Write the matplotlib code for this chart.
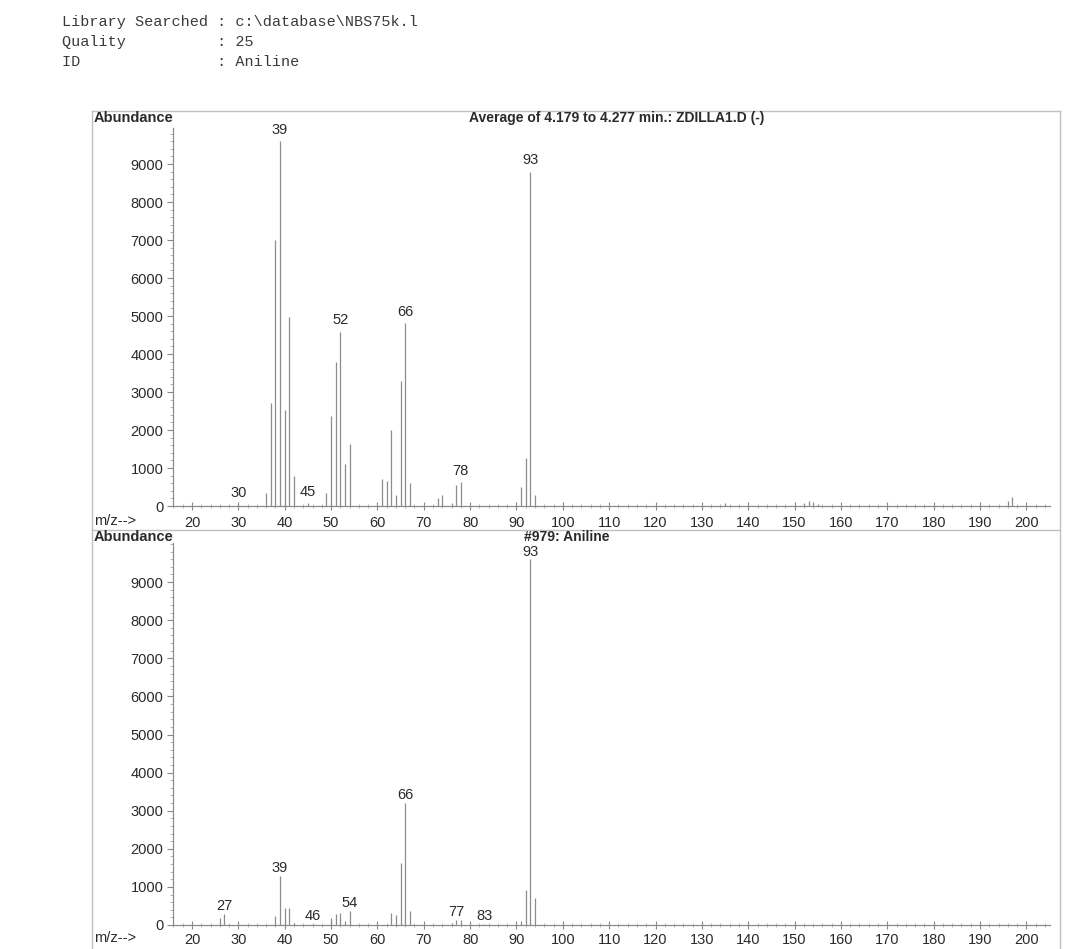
import matplotlib
matplotlib.use("Agg")
import matplotlib.pyplot as plt
from matplotlib.lines import Line2D
from matplotlib.ticker import MultipleLocator

# ---------------- data ----------------
header_lines = [
    "Library Searched : c:\\database\\NBS75k.l",
    "Quality          : 25",
    "ID               : Aniline",
]

top_title = "Average of 4.179 to 4.277 min.: ZDILLA1.D (-)"
top_mz = [30, 36, 37, 38, 39, 40, 41, 42, 45, 49, 50, 51, 52, 53, 54,
          61, 62, 63, 64, 65, 66, 67, 73, 74, 76, 77, 78,
          91, 92, 93, 94, 135, 152, 153, 154, 155, 196, 197]
top_ab = [60, 340, 2700, 7000, 9600, 2520, 4970, 800, 80, 350, 2380, 3780, 4590, 1100, 1620,
          700, 650, 1990, 290, 3280, 4810, 600, 200, 290, 80, 560, 620,
          490, 1270, 8800, 290, 80, 90, 120, 100, 60, 120, 230]
top_labels = [30, 39, 45, 52, 66, 78, 93]

bot_title = "#979: Aniline"
bot_mz = [26, 27, 38, 39, 40, 41, 42, 46, 50, 51, 52, 53, 54,
          63, 64, 65, 66, 67, 76, 77, 78, 83, 91, 92, 93, 94]
bot_ab = [190, 290, 245, 1290, 450, 450, 50, 30, 190, 300, 310, 100, 370,
          310, 260, 1630, 3200, 375, 60, 130, 130, 30, 100, 930, 9600, 700]
bot_labels = [27, 39, 46, 54, 66, 77, 83, 93]

y_ticks = [0, 1000, 2000, 3000, 4000, 5000, 6000, 7000, 8000, 9000]
x_ticks = list(range(20, 201, 10))

# ---------------- figure ----------------
W, H = 1092, 949
fig = plt.figure(figsize=(W / 100, H / 100), dpi=100)
fig.patch.set_facecolor("white")
plt.rcParams["font.family"] = ["Liberation Sans", "DejaVu Sans"]

def fx(px):
    return px / W

def fy(py):
    return 1 - py / H

TXT = "#2a2a2a"
LINE = "#8a8a8a"

# header
for i, s in enumerate(header_lines):
    fig.text(fx(62), fy(22 + i * 20), s, family=["Liberation Mono", "DejaVu Sans Mono"],
             fontsize=10.9, color="#3a3a3a", va="center", ha="left")

# outer frames
frame_kw = dict(color="#c0c0c0", lw=1.0, transform=fig.transFigure)
fig.add_artist(Line2D([fx(92), fx(1060)], [fy(111), fy(111)], **frame_kw))
fig.add_artist(Line2D([fx(92), fx(92)], [fy(111), fy(949)], **frame_kw))
fig.add_artist(Line2D([fx(1060), fx(1060)], [fy(111), fy(949)], **frame_kw))
fig.add_artist(Line2D([fx(92), fx(1060)], [fy(530), fy(530)], **frame_kw))

x_left_px, x_right_px = 173, 1050
mz_at_left, mz_at_right = 15.9, 205.1


def make_panel(base_px, top_px, ymax, mz, ab, labels, title, title_x_px, title_y_px,
               abund_y_px, mzlabel_y_px, xpad, label_off):
    ax = fig.add_axes([fx(x_left_px), fy(base_px), fx(x_right_px - x_left_px),
                       (base_px - top_px) / H])
    ax.set_facecolor("none")
    ax.vlines(mz, 0, ab, color="#8c8c8c", lw=0.9)
    ax.set_xlim(mz_at_left, mz_at_right)
    ax.set_ylim(0, ymax)
    for s in ("top", "right"):
        ax.spines[s].set_visible(False)
    for s in ("left", "bottom"):
        ax.spines[s].set_color(LINE)
        ax.spines[s].set_linewidth(0.9)
    ax.set_yticks(y_ticks)
    ax.set_xticks(x_ticks)
    ax.yaxis.set_minor_locator(MultipleLocator(200))
    ax.xaxis.set_minor_locator(MultipleLocator(2))
    ax.tick_params(axis="y", which="major", length=4, width=0.8, color=LINE,
                   labelsize=10.5, labelcolor=TXT, pad=3)
    ax.tick_params(axis="y", which="minor", length=2, width=0.6, color="#aaaaaa")
    ax.tick_params(axis="x", which="major", direction="inout", length=6, width=0.8,
                   color=LINE, labelsize=10.5, labelcolor=TXT, pad=xpad)
    ax.tick_params(axis="x", which="minor", direction="inout", length=3, width=0.6,
                   color="#aaaaaa")
    lookup = dict(zip(mz, ab))
    for m in labels:
        ax.annotate(str(m), (m, lookup[m]), xytext=(0, label_off), textcoords="offset points",
                    ha="center", va="bottom", fontsize=10.5, color=TXT,
                    annotation_clip=False)
    fig.text(fx(title_x_px), fy(title_y_px), title, ha="center", va="center",
             fontsize=10, fontweight="bold", color=TXT)
    fig.text(fx(94), fy(abund_y_px), "Abundance", ha="left", va="center",
             fontsize=10.5, fontweight="bold", color=TXT)
    fig.text(fx(94), fy(mzlabel_y_px), "m/z-->", ha="left", va="center",
             fontsize=10.5, color=TXT)
    return ax


make_panel(506, 128, (506 - 128) / 38.0 * 1000, top_mz, top_ab, top_labels, top_title,
           617, 118, 118, 521, 4.5, 3)
make_panel(925, 543, (925 - 543) / 38.1 * 1000, bot_mz, bot_ab, bot_labels, bot_title,
           567, 537, 537, 938, 3, 0.5)

fig.savefig("out.png", dpi=100, facecolor="white")
